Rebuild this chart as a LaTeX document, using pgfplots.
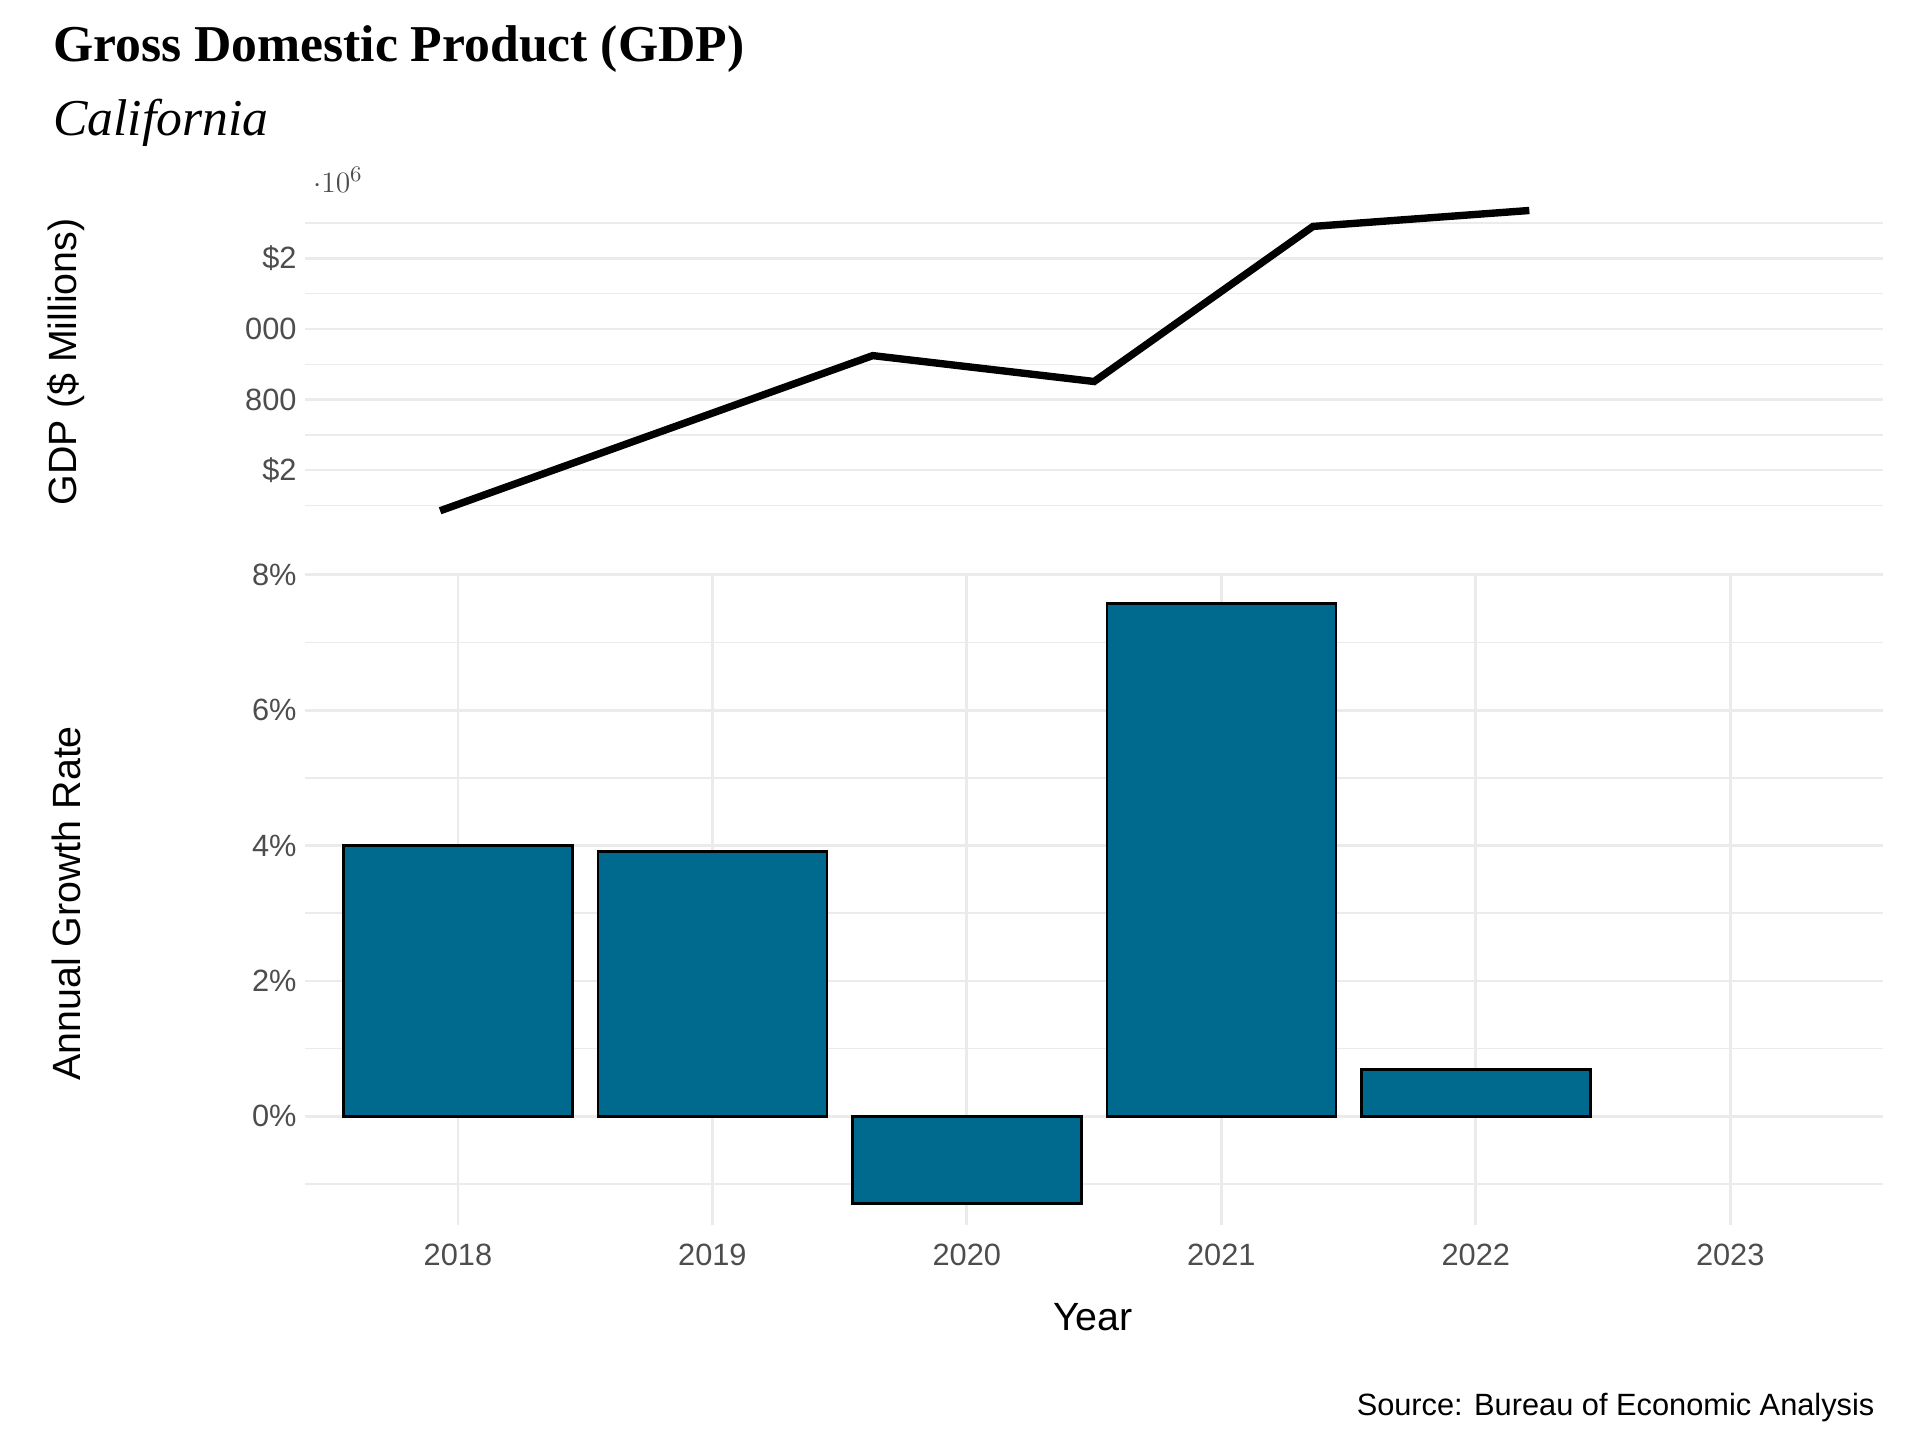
\documentclass[border=0pt]{standalone}
\usepackage{pgfplots}
\pgfplotsset{compat=1.18}
\usepackage{fontspec}
\setmainfont{Liberation Sans}
\newfontfamily\serif{Liberation Serif}
\definecolor{barc}{HTML}{006A8E}
\definecolor{tickc}{HTML}{4D4D4D}
\definecolor{gridc}{HTML}{EBEBEB}
\begin{document}
\begin{tikzpicture}
\path[use as bounding box] (0,0) rectangle (780pt,-585pt);
\pgfplotsset{every axis/.style={scale only axis, axis line style={draw=none}, tick style={draw=none},
  ticklabel style={font=\fontsize{12.5}{14}\selectfont, text=tickc},
  major grid style={gridc, line width=1.1pt}, minor grid style={gridc, line width=0.6pt},
  /pgf/number format/assume math mode=true}}
\begin{axis}[at={(124pt,-220pt)}, anchor=south west, width=641pt, height=137.5pt,
  xmin=2017.4, xmax=2023.6, ymin=2698800, ymax=3178500,
  xtick=\empty, ytick={2800000,2900000,3000000,3100000},
  yticklabels={\$2,800,000,\$2,900,000,\$3,000,000,\$3,100,000},
  minor ytick={2750000,2850000,2950000,3050000,3150000},
  ymajorgrids, yminorgrids, clip=false]
\addplot[black, line width=3pt] coordinates {(2017.93,2742400)(2019.63,2962300)(2020.5,2925600)(2021.36,3145400)(2022.21,3168000)};
\end{axis}
\begin{axis}[at={(124pt,-497.5pt)}, anchor=south west, width=641pt, height=264pt,
  xmin=2017.4, xmax=2023.6, ymin=-1.6, ymax=8,
  xtick={2018,...,2023}, xticklabels={2018,2019,2020,2021,2022,2023},
  ytick={0,2,4,6,8}, yticklabels={0\%,2\%,4\%,6\%,8\%}, minor ytick={-1,1,3,5,7},
  xmajorgrids, ymajorgrids, yminorgrids, ybar, bar width=0.9, bar shift=0pt]
\addplot[fill=barc, draw=black, line width=1.1pt] coordinates {(2018,4.0)(2019,3.91)(2020,-1.29)(2021,7.58)(2022,0.69)};
\end{axis}
\node[anchor=base west, font=\serif\bfseries\fontsize{21}{24}\selectfont] at (18pt,-25pt) {Gross Domestic Product (GDP)};
\node[anchor=base west, font=\serif\itshape\fontsize{21}{24}\selectfont] at (18pt,-55pt) {California};
\node[rotate=90, font=\fontsize{16}{18}\selectfont] at (27pt,-147pt) {GDP (\$ Millions)};
\node[rotate=90, font=\fontsize{16}{18}\selectfont] at (27pt,-367pt) {Annual Growth Rate};
\node[font=\fontsize{16}{18}\selectfont] at (444pt,-535pt) {Year};
\node[anchor=base east, font=\fontsize{12.5}{14}\selectfont] at (765pt,-575pt) {Source: Bureau of Economic Analysis};
\end{tikzpicture}
\end{document}
